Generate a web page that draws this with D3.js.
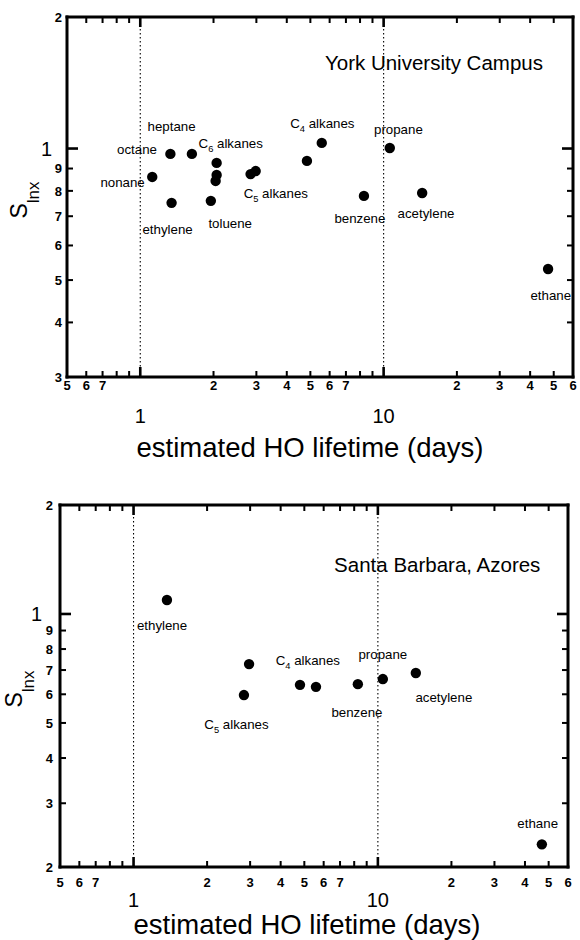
<!DOCTYPE html>
<html><head><meta charset="utf-8">
<script src="https://cdn.jsdelivr.net/npm/d3@7"></script>
<style>
html,body{margin:0;padding:0;background:#fff;overflow:hidden}
svg{display:block}
</style>
</head><body><svg id="c" width="580" height="940" font-family="Liberation Sans, Arial, Helvetica, sans-serif"></svg>
<script>
// ---------------- data ----------------
const xMinorTicks = [0.6,0.7,0.8,0.9,2,3,4,5,6,7,8,9,20,30,40,50];
const xMajorTicks = [1,10];
const xMinorLabels = [0.5,0.6,0.7,2,3,4,5,6,7,20,30,40,50,60];
const xMajorLabels = [1,10];

const yTopMinorTicks = [0.4,0.5,0.6,0.7,0.8,0.9];
const yTopMinorLabels = [0.3,0.4,0.5,0.6,0.7,0.8,0.9,2];
const yBotMinorTicks = [0.3,0.4,0.5,0.6,0.7,0.8,0.9];
const yBotMinorLabels = [0.2,0.3,0.4,0.5,0.6,0.7,0.8,0.9,2];
const yMajorTicks = [1];

// York University Campus
const yorkGroup = ["nonane","octane","heptane","C6 alkanes","C6 alkanes","C6 alkanes","C5 alkanes","C5 alkanes","toluene","ethylene","C4 alkanes","C4 alkanes","propane","benzene","acetylene","ethane"];
const yorkLifetime = [1.12,1.33,1.63,2.06,2.06,2.04,2.84,2.98,1.95,1.345,4.84,5.57,10.6,8.3,14.4,47.4];
const yorkS = [0.861,0.972,0.972,0.927,0.870,0.843,0.874,0.888,0.759,0.751,0.937,1.03,1.003,0.779,0.791,0.530];
const yorkLabelText = ["heptane","octane","C6 alkanes","nonane","C5 alkanes","ethylene","toluene","C4 alkanes","propane","benzene","acetylene","ethane"];
const yorkLabelAtX = [1.345,0.970,2.353,0.846,3.605,1.295,2.342,5.6,11.5,7.99,14.93,48.6];
const yorkLabelAtS = [1.126,0.997,1.030,0.838,0.791,0.6545,0.6757,1.144,1.108,0.6935,0.712,0.462];

// Santa Barbara, Azores
const azoresGroup = ["ethylene","C5 alkanes","C5 alkanes","C4 alkanes","C4 alkanes","benzene","propane","acetylene","ethane"];
const azoresLifetime = [1.37,2.83,2.97,4.8,5.58,8.28,10.48,14.3,46.9];
const azoresS = [1.093,0.597,0.727,0.637,0.629,0.640,0.661,0.687,0.231];
const azoresLabelText = ["ethylene","C4 alkanes","C5 alkanes","propane","acetylene","benzene","ethane"];
const azoresLabelAtX = [1.308,5.17,2.638,10.48,18.62,8.21,45.1];
const azoresLabelAtS = [0.932,0.746,0.497,0.775,0.590,0.536,0.2645];

// ---------------- drawing ----------------
const panels = [
  {title:"York University Campus", titleX:16.1, titleS:1.57,
   left:67,right:573,top:17,bottom:377, yDomain:[0.3,2],
   yMinorTicks:yTopMinorTicks, yMinorLabels:yTopMinorLabels,
   xs:yorkLifetime, ys:yorkS, lt:yorkLabelText, lx:yorkLabelAtX, ly:yorkLabelAtS,
   minorLabY:390, majorLabY:423, axTitleX:310, axTitleY:457, minorGap:5, majorGap:15, yTitleX:27, yTitleY:200},
  {title:"Santa Barbara, Azores", titleX:17.5, titleS:1.365,
   left:60,right:568,top:505,bottom:867, yDomain:[0.2,2],
   yMinorTicks:yBotMinorTicks, yMinorLabels:yBotMinorLabels,
   xs:azoresLifetime, ys:azoresS, lt:azoresLabelText, lx:azoresLabelAtX, ly:azoresLabelAtS,
   minorLabY:887, majorLabY:907, axTitleX:307, axTitleY:934, minorGap:7, majorGap:18, yTitleX:22, yTitleY:689}
];

const svg = d3.select("#c");
const digit = v => String(Math.round(v / Math.pow(10, Math.floor(Math.log10(v) + 1e-9))));

function addLabel(sel, txt, size) {
  const m = txt.match(/^C(\d) (.*)$/);
  if (m) {
    sel.append("tspan").text("C");
    sel.append("tspan").attr("font-size", size*0.7).attr("dy", 4).text(m[1]);
    sel.append("tspan").attr("dy", -4).text(" " + m[2]);
  } else sel.text(txt);
}

panels.forEach(p => {
  const x = d3.scaleLog().domain([0.5,60]).range([p.left,p.right]);
  const y = d3.scaleLog().domain(p.yDomain).range([p.bottom,p.top]);

  // frame and inward ticks first (filled bars placed with the scales)
  const fr = svg.append("g").attr("fill","#000");
  const fw = 3;
  fr.append("rect").attr("x",p.left-fw/2).attr("y",p.top-fw/2).attr("width",p.right-p.left+fw).attr("height",fw);
  fr.append("rect").attr("x",p.left-fw/2).attr("y",p.bottom-fw/2).attr("width",p.right-p.left+fw).attr("height",fw);
  fr.append("rect").attr("x",p.left-fw/2).attr("y",p.top-fw/2).attr("width",fw).attr("height",p.bottom-p.top+fw);
  fr.append("rect").attr("x",p.right-fw/2).attr("y",p.top-fw/2).attr("width",fw).attr("height",p.bottom-p.top+fw);
  const xBars = (vals, len, w, cls) => {
    fr.selectAll("rect."+cls+"b").data(vals).join("rect").attr("class",cls+"b")
      .attr("x",d=>x(d)-w/2).attr("y",p.bottom-len).attr("width",w).attr("height",len);
    fr.selectAll("rect."+cls+"t").data(vals).join("rect").attr("class",cls+"t")
      .attr("x",d=>x(d)-w/2).attr("y",p.top).attr("width",w).attr("height",len);
  };
  const yBars = (vals, len, w, cls) => {
    fr.selectAll("rect."+cls+"l").data(vals).join("rect").attr("class",cls+"l")
      .attr("x",p.left).attr("y",d=>y(d)-w/2).attr("width",len).attr("height",w);
    fr.selectAll("rect."+cls+"r").data(vals).join("rect").attr("class",cls+"r")
      .attr("x",p.right-len).attr("y",d=>y(d)-w/2).attr("width",len).attr("height",w);
  };
  xBars(xMinorTicks, 6, 2, "xn");
  xBars(xMajorTicks, 10, 2.6, "xj");
  yBars(p.yMinorTicks, 6, 2, "yn");
  yBars(yMajorTicks, 11, 2.6, "yj");

  const g = svg.append("g");

  // dotted reference lines at 1 and 10 days
  g.selectAll("line.ref").data(xMajorTicks).join("line").attr("class","ref")
    .attr("x1",d=>x(d)).attr("x2",d=>x(d)).attr("y1",p.top).attr("y2",p.bottom)
    .attr("stroke","#000").attr("stroke-width",1.1).attr("stroke-dasharray","1.5,2.5");

  // x tick labels
  g.selectAll("text.xmin").data(xMinorLabels).join("text").attr("class","xmin")
    .attr("x",d=>x(d)).attr("y",p.minorLabY).attr("text-anchor","middle")
    .attr("font-size",13).attr("font-weight","bold").text(digit);
  g.selectAll("text.xmaj").data(xMajorLabels).join("text").attr("class","xmaj")
    .attr("x",d=>x(d)).attr("y",p.majorLabY).attr("text-anchor","middle")
    .attr("font-size",20).text(d=>String(d));
  g.append("text").attr("x",p.axTitleX).attr("y",p.axTitleY)
    .attr("text-anchor","middle").attr("font-size",27.5).text("estimated HO lifetime (days)");

  // y tick labels
  g.selectAll("text.ymin").data(p.yMinorLabels).join("text").attr("class","ymin")
    .attr("x",p.left-p.minorGap).attr("y",d=>y(d)).attr("dy","0.36em").attr("text-anchor","end")
    .attr("font-size",13).attr("font-weight","bold").text(digit);
  g.selectAll("text.ymaj").data(yMajorTicks).join("text").attr("class","ymaj")
    .attr("x",p.left-p.majorGap).attr("y",d=>y(d)).attr("dy","0.36em").attr("text-anchor","end")
    .attr("font-size",20).text("1");

  // y axis title
  const yt = g.append("text").attr("transform",`translate(${p.yTitleX},${p.yTitleY}) rotate(-90)`)
    .attr("text-anchor","middle");
  yt.append("tspan").attr("font-size",23).text("S");
  yt.append("tspan").attr("font-size",17).attr("dy",12).text("lnx");

  // point labels
  p.lt.forEach((t,i) => {
    const s = g.append("text").attr("x",x(p.lx[i])).attr("y",y(p.ly[i])).attr("dy","0.35em")
      .attr("text-anchor","middle").attr("font-size",13.3);
    addLabel(s, t, 13.3);
  });

  // panel title
  g.append("text").attr("x",x(p.titleX)).attr("y",y(p.titleS)).attr("dy","0.35em")
    .attr("text-anchor","middle").attr("font-size",20.5).text(p.title);

  // points
  g.selectAll("circle").data(p.xs.map((v,i)=>[v,p.ys[i]])).join("circle")
    .attr("cx",d=>x(d[0])).attr("cy",d=>y(d[1])).attr("r",5.2).attr("fill","#000");
});
</script>
</body></html>
